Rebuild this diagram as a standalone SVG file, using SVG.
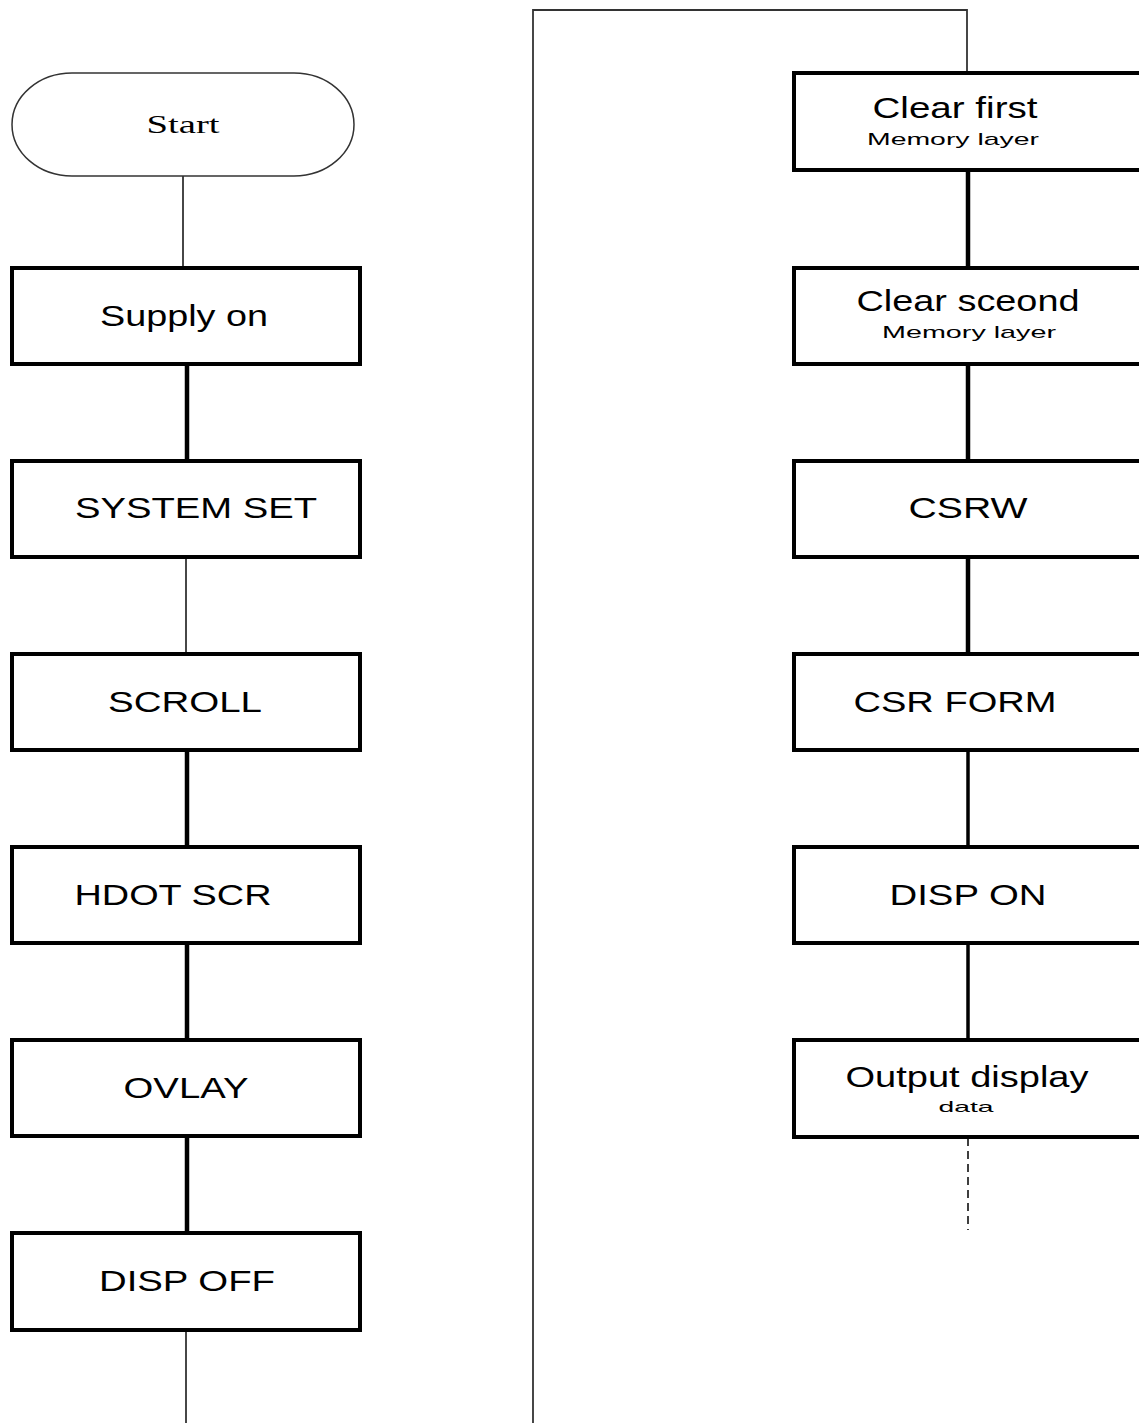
<svg xmlns="http://www.w3.org/2000/svg" width="1139" height="1423" viewBox="0 0 1139 1423">
<style>
.box{fill:#fff;stroke:#000;stroke-width:4}
.term{fill:#fff;stroke:#333;stroke-width:1.5}
.t{font-family:"Liberation Sans",Arial,sans-serif;font-size:30px;fill:#000;text-anchor:middle}
.s{font-family:"Liberation Sans",Arial,sans-serif;font-size:17px;fill:#000;text-anchor:middle}
.x{font-family:"Liberation Sans",Arial,sans-serif;font-size:15px;fill:#000;text-anchor:middle}
.st{font-family:"Liberation Serif","Times New Roman",serif;font-size:25px;fill:#000;text-anchor:middle}
.thin{stroke:#333;stroke-width:1.8;fill:none}
.thick{stroke:#000;stroke-width:4.5;fill:none}
.med{stroke:#000;stroke-width:3.5;fill:none}
.dash{stroke:#000;stroke-width:1.5;fill:none;stroke-dasharray:8 5}
</style>
<rect width="1139" height="1423" fill="#fff"/>
<g id="connectors">
<line class="thin" x1="183" y1="176" x2="183" y2="268"/>
<line class="thick" x1="187" y1="364" x2="187" y2="461"/>
<line class="thin" x1="186" y1="557" x2="186" y2="654"/>
<line class="thick" x1="187" y1="750" x2="187" y2="847"/>
<line class="thick" x1="187" y1="943" x2="187" y2="1040"/>
<line class="thick" x1="187" y1="1136" x2="187" y2="1233"/>
<line class="thin" x1="186" y1="1331" x2="186" y2="1423"/>
<polyline class="thin" points="533,1423 533,10 967,10 967,73"/>
<line class="thick" x1="968" y1="170" x2="968" y2="268"/>
<line class="thick" x1="968" y1="364" x2="968" y2="461"/>
<line class="thick" x1="968" y1="557" x2="968" y2="654"/>
<line class="med" x1="968" y1="750" x2="968" y2="847"/>
<line class="med" x1="968" y1="943" x2="968" y2="1040"/>
<line class="dash" x1="968" y1="1138" x2="968" y2="1230"/>
</g>
<g id="start">
<rect class="term" x="12" y="73" width="342" height="103" rx="60" ry="51.5"/>
<text class="st" x="183" y="133" textLength="73" lengthAdjust="spacingAndGlyphs">Start</text>
</g>
<g id="supply-on">
<rect class="box" x="12" y="268" width="348" height="96"/>
<text class="t" x="184" y="326" textLength="168" lengthAdjust="spacingAndGlyphs">Supply on</text>
</g>
<g id="system-set">
<rect class="box" x="12" y="461" width="348" height="96"/>
<text class="t" x="196" y="518" textLength="242" lengthAdjust="spacingAndGlyphs">SYSTEM SET</text>
</g>
<g id="scroll">
<rect class="box" x="12" y="654" width="348" height="96"/>
<text class="t" x="185" y="712" textLength="154" lengthAdjust="spacingAndGlyphs">SCROLL</text>
</g>
<g id="hdot-scr">
<rect class="box" x="12" y="847" width="348" height="96"/>
<text class="t" x="173" y="905" textLength="197" lengthAdjust="spacingAndGlyphs">HDOT SCR</text>
</g>
<g id="ovlay">
<rect class="box" x="12" y="1040" width="348" height="96"/>
<text class="t" x="186" y="1098" textLength="125" lengthAdjust="spacingAndGlyphs">OVLAY</text>
</g>
<g id="disp-off">
<rect class="box" x="12" y="1233" width="348" height="97"/>
<text class="t" x="187" y="1291" textLength="176" lengthAdjust="spacingAndGlyphs">DISP OFF</text>
</g>
<g id="clear-first">
<rect class="box" x="794" y="73" width="360" height="97"/>
<text class="t" x="955" y="118" textLength="165" lengthAdjust="spacingAndGlyphs">Clear first</text>
<text class="s" x="953" y="145" textLength="172" lengthAdjust="spacingAndGlyphs">Memory layer</text>
</g>
<g id="clear-second">
<rect class="box" x="794" y="268" width="360" height="96"/>
<text class="t" x="968" y="311" textLength="223" lengthAdjust="spacingAndGlyphs">Clear sceond</text>
<text class="s" x="969" y="338" textLength="174" lengthAdjust="spacingAndGlyphs">Memory layer</text>
</g>
<g id="csrw">
<rect class="box" x="794" y="461" width="360" height="96"/>
<text class="t" x="968" y="518" textLength="119" lengthAdjust="spacingAndGlyphs">CSRW</text>
</g>
<g id="csr-form">
<rect class="box" x="794" y="654" width="360" height="96"/>
<text class="t" x="955" y="712" textLength="203" lengthAdjust="spacingAndGlyphs">CSR FORM</text>
</g>
<g id="disp-on">
<rect class="box" x="794" y="847" width="360" height="96"/>
<text class="t" x="968" y="905" textLength="157" lengthAdjust="spacingAndGlyphs">DISP ON</text>
</g>
<g id="output-display">
<rect class="box" x="794" y="1040" width="360" height="97"/>
<text class="t" x="967" y="1087" textLength="243" lengthAdjust="spacingAndGlyphs">Output display</text>
<text class="x" x="966" y="1112" textLength="55" lengthAdjust="spacingAndGlyphs">data</text>
</g>
</svg>
